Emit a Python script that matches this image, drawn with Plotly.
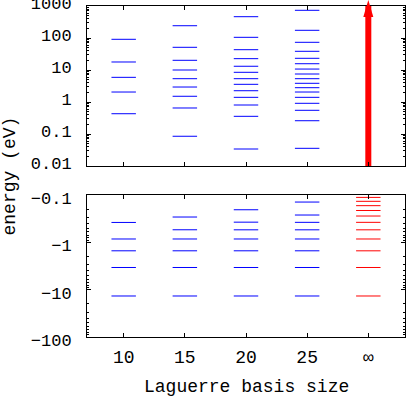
"""Laguerre-basis hydrogen spectrum: bound levels (bottom) vs pseudo-continuum (top)."""

import plotly.graph_objects as go
from plotly.subplots import make_subplots

FONT = "Liberation Mono, Courier New, monospace"
FONT_SIZE = 18
BLUE = "#0000ff"
RED = "#ff0000"
INK = "#000000"

# basis sizes along x; the last column is the exact (infinite basis) spectrum
SIZES = ["10", "15", "20", "25", "∞"]

# positive (pseudo-continuum) eigenvalues, eV
POS_10 = [91, 17.8, 5.9, 2.05, 0.43]
POS_15 = [242, 51.2, 20.1, 10.0, 5.35, 2.94, 1.51, 0.65, 0.085]
POS_20 = [463, 105, 43.1, 22.6, 13.1, 8.47, 5.35, 3.57, 2.25, 1.40, 0.806, 0.357, 0.034]
POS_25 = [734, 174, 73.4, 38.4, 23.2, 15.7, 10.7, 7.5, 5.35, 3.84, 2.80, 2.05,
          1.40, 0.91, 0.55, 0.26, 0.0357]

# negative (bound) eigenvalues, eV
NEG_10 = [-13.6, -3.4, -1.51, -0.85, -0.38]
NEG_15 = [-13.6, -3.4, -1.51, -0.85, -0.543, -0.292]
NEG_20 = [-13.6, -3.4, -1.51, -0.85, -0.544, -0.375, -0.205]
NEG_25 = [-13.6, -3.4, -1.51, -0.85, -0.544, -0.378, -0.265, -0.141]
NEG_INF = [-13.6, -3.4, -1.511, -0.85, -0.544, -0.378, -0.278, -0.2125,
           -0.168, -0.136, -0.1124]

TOP_TICKS = [0.01, 0.1, 1, 10, 100, 1000]
TOP_LABELS = ["0.01", "0.1", "1", "10", "100", "1000"]
BOT_TICKS = [0.1, 1, 10, 100]
BOT_LABELS = ["−0.1", "−1", "−10", "−100"]

HALF = 0.2  # half-width of a level segment, in column units


def _levels(fig, col, energies, color, row, flip=False):
    xs, ys = [], []
    for e in energies:
        y = -e if flip else e
        xs += [col - HALF, col + HALF, None]
        ys += [y, y, None]
    fig.add_trace(
        go.Scatter(x=xs, y=ys, mode="lines", line={"color": color, "width": 1},
                   hoverinfo="skip"),
        row=row, col=1,
    )


fig = make_subplots(rows=2, cols=1)

for i, pos in enumerate([POS_10, POS_15, POS_20, POS_25]):
    _levels(fig, i, pos, BLUE, 1)
for i, neg in enumerate([NEG_10, NEG_15, NEG_20, NEG_25]):
    _levels(fig, i, neg, BLUE, 2, flip=True)
_levels(fig, 4, NEG_INF, RED, 2, flip=True)

# exact continuum: thick arrow over the whole positive axis, head poking out on top
inf_col = len(SIZES) - 1
fig.add_trace(
    go.Scatter(
        x=[inf_col, inf_col],
        y=[TOP_TICKS[0], TOP_TICKS[-1]],
        mode="lines",
        line={"color": RED, "width": 6, "backoff": 10},
        hoverinfo="skip",
    ),
    row=1, col=1,
)
fig.add_shape(
    type="path", xref="x", yref="y domain",
    xsizemode="pixel", ysizemode="pixel", xanchor=inf_col, yanchor=1,
    path="M-5,-11 L5,-11 L0,6 Z",
    fillcolor=RED, line={"width": 0}, layer="above",
)

axis_common = dict(
    showline=True, linecolor=INK, linewidth=1, mirror="allticks",
    ticks="inside", ticklen=4, tickcolor=INK, showgrid=False, zeroline=False,
    automargin=False, ticklabeloverflow="allow",
)
fig.update_xaxes(
    **axis_common, range=[-0.6, 4.6], tickvals=list(range(len(SIZES))),
    ticktext=SIZES, ticklabelstandoff=3,
    tickfont={"family": FONT, "size": FONT_SIZE, "color": INK},
)
fig.update_xaxes(showticklabels=False, row=1, col=1)
fig.update_yaxes(
    **axis_common, type="log", ticklabelstandoff=11, ticklabelshift=-3,
    tickfont={"family": FONT, "size": 17, "color": INK},
    minor={"ticks": "inside", "ticklen": 2, "dtick": "D1", "tickcolor": INK,
           "showgrid": False},
)
fig.update_yaxes(range=[-2, 3], tickvals=TOP_TICKS, ticktext=TOP_LABELS,
                 domain=[0.5166, 1], row=1, col=1)
fig.update_yaxes(range=[2, -1], tickvals=BOT_TICKS, ticktext=BOT_LABELS,
                 domain=[0, 0.429], row=2, col=1)

fig.add_annotation(
    text="energy (eV)", textangle=-90, xref="paper", yref="paper",
    x=-0.242, y=0.485, xanchor="center", yanchor="middle", showarrow=False,
    font={"family": FONT, "size": FONT_SIZE, "color": INK},
)
fig.add_annotation(
    text="Laguerre basis size", xref="paper", yref="paper",
    x=0.5, y=-0.15, showarrow=False, yanchor="middle",
    font={"family": FONT, "size": FONT_SIZE, "color": INK},
)

fig.update_layout(
    width=406, height=406, showlegend=False,
    margin={"l": 87, "r": 1, "t": 6, "b": 69},
    paper_bgcolor="white", plot_bgcolor="white",
)

# drop the browser's default body margin so the figure sits at the page origin
fig.write_html(
    "out.html",
    config={"displayModeBar": False},
    post_script="document.body.style.margin = '0';",
)
